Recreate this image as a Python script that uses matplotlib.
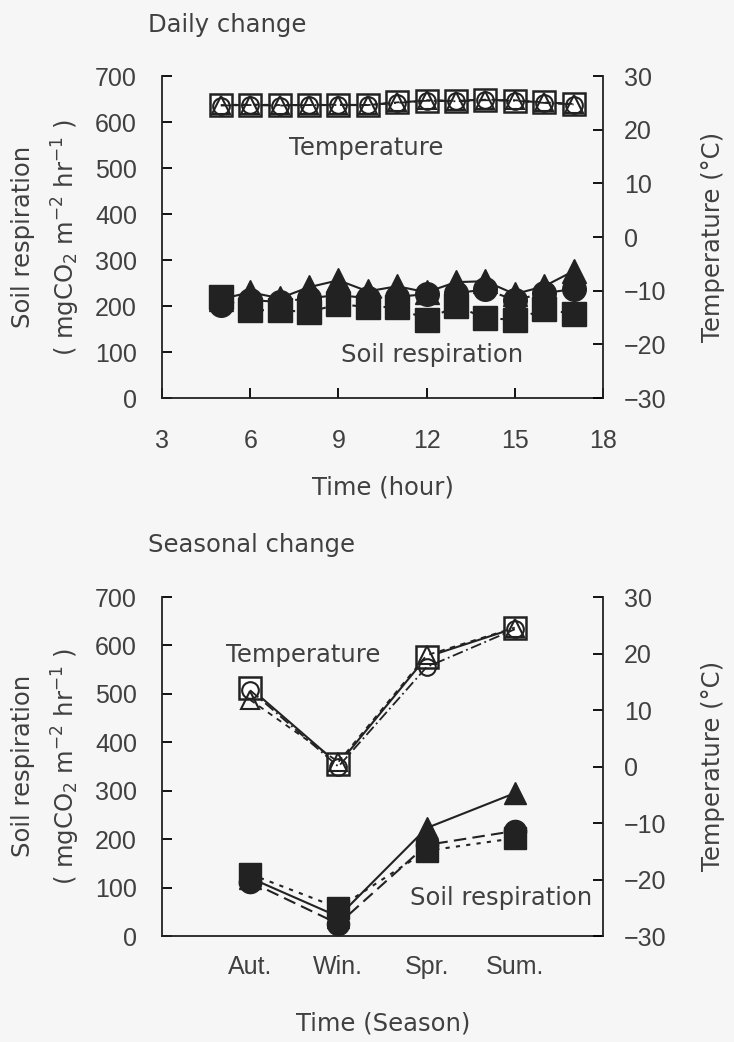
import matplotlib.pyplot as plt
import numpy as np

plt.rcParams['font.family'] = ['DejaVu Sans']
plt.rcParams['mathtext.fontset'] = 'dejavusans'

# daily change data
hours = [5, 6, 7, 8, 9, 10, 11, 12, 13, 14, 15, 16, 17]
temp_sq = [24.6, 24.6, 24.6, 24.6, 24.6, 24.6, 25.1, 25.4, 25.4, 25.6, 25.4, 25.1, 24.8]
temp_ci = [24.5, 24.6, 24.5, 24.6, 24.6, 24.6, 25.0, 25.4, 25.3, 25.5, 25.4, 25.0, 24.7]
temp_tr = [24.6, 24.7, 24.6, 24.6, 24.7, 24.6, 25.1, 25.5, 25.4, 25.6, 25.5, 25.1, 24.8]
resp_tr = [215, 230, 217, 241, 256, 232, 243, 230, 252, 254, 226, 243, 276]
resp_ci = [202, 213, 209, 217, 224, 217, 220, 226, 228, 236, 213, 228, 237]
resp_sq = [219, 191, 191, 187, 204, 198, 198, 170, 200, 174, 170, 193, 183]

# seasonal change data
seasons = ['Aut.', 'Win.', 'Spr.', 'Sum.']
s_temp_sq = [13.9, 0.4, 19.4, 24.5]
s_temp_ci = [13.5, 0.0, 17.6, 24.3]
s_temp_tr = [11.8, 0.8, 19.7, 24.6]
s_resp_tr = [120, 40, 223, 295]
s_resp_ci = [112, 25, 188, 217]
s_resp_sq = [128, 58, 176, 202]

txt = '#404040'
bg = '#f7f6f6'
fs = 17.5
tfs = 18
tick_font = 'Liberation Sans'

fig = plt.figure(figsize=(7.34, 10.42), dpi=100, facecolor=bg)

def style(ax, ax2):
    for a in (ax, ax2):
        a.set_facecolor('none')
        a.spines['top'].set_visible(False)
        for s in a.spines.values():
            s.set_linewidth(1.3)
            s.set_color('#222222')
    ax.spines['right'].set_visible(False)
    ax2.spines['left'].set_visible(False)
    ax2.spines['bottom'].set_visible(False)
    ax.tick_params(axis='y', direction='in', length=7, width=1.3, pad=18,
                   labelsize=tfs, labelcolor=txt)
    ax2.tick_params(axis='y', direction='in', length=7, width=1.3, pad=15,
                    labelsize=tfs, labelcolor=txt)
    ax.set_ylim(0, 700)
    ax.set_yticks(np.arange(0, 701, 100))
    ax2.set_ylim(-30, 30)
    ax2.set_yticks(np.arange(-30, 31, 10))
    for lab in ax.get_yticklabels() + ax2.get_yticklabels() + ax.get_xticklabels():
        lab.set_family(tick_font)

def open_marks(ax, x, sq, ci, tr, ms):
    ax.plot(x, sq, color='#222222', lw=1.5, marker='s', ms=ms, mfc='white', mec='#222222', mew=1.8)
    ax.plot(x, ci, color='#222222', lw=1.3, ls=(0, (6, 2, 1, 2)), marker='o', ms=ms * 0.75,
            mfc='none', mec='#222222', mew=1.5)
    ax.plot(x, tr, color='#222222', lw=1.3, ls=(0, (3, 3)), marker='^', ms=ms * 0.8,
            mfc='none', mec='#222222', mew=1.5)

def filled_marks(ax, x, tr, ci, sq, ms):
    ax.plot(x, sq, color='#222222', lw=1.5, ls=(0, (2, 3)), marker='s', ms=ms, mfc='#222222', mec='#222222')
    ax.plot(x, ci, color='#222222', lw=1.5, ls=(0, (6, 3)), marker='o', ms=ms, mfc='#222222', mec='#222222')
    ax.plot(x, tr, color='#222222', lw=1.5, marker='^', ms=ms, mfc='#222222', mec='#222222')

# ---- daily change ----
ax1 = fig.add_axes([0.2207, 0.618, 0.6008, 0.309])
ax1r = ax1.twinx()
ax1.set_xlim(3, 18)
ax1.set_xticks([3, 6, 9, 12, 15, 18])
ax1.tick_params(axis='x', direction='in', length=7, width=1.3, pad=22,
                labelsize=tfs, labelcolor=txt)
style(ax1, ax1r)
filled_marks(ax1, hours, resp_tr, resp_ci, resp_sq, 17)
open_marks(ax1r, hours, temp_sq, temp_ci, temp_tr, 16)
ax1.text(9.94, 543, 'Temperature', fontsize=fs, color=txt, ha='center', va='center')
ax1.text(12.2, 93, 'Soil respiration', fontsize=fs, color=txt, ha='center', va='center')
fig.text(148 / 734, 1 - 25 / 1042, 'Daily change', fontsize=fs, color=txt, ha='left', va='center')
fig.text(383 / 734, 1 - 487 / 1042, 'Time (hour)', fontsize=fs, color=txt, ha='center', va='center')

# ---- seasonal change ----
ax2 = fig.add_axes([0.2207, 0.1017, 0.6008, 0.3253])
ax2r = ax2.twinx()
ax2.set_xlim(0, 5)
ax2.set_xticks([1, 2, 3, 4])
ax2.set_xticklabels(seasons)
ax2.tick_params(axis='x', direction='in', length=0, pad=14,
                labelsize=tfs, labelcolor=txt)
style(ax2, ax2r)
xs = np.arange(1, len(seasons) + 1)
filled_marks(ax2, xs, s_resp_tr, s_resp_ci, s_resp_sq, 16)
open_marks(ax2r, xs, s_temp_sq, s_temp_ci, s_temp_tr, 16)
ax2.text(1.6, 580, 'Temperature', fontsize=fs, color=txt, ha='center', va='center')
ax2.text(3.84, 78, 'Soil respiration', fontsize=fs, color=txt, ha='center', va='center')
fig.text(148 / 734, 1 - 545 / 1042, 'Seasonal change', fontsize=fs, color=txt, ha='left', va='center')
fig.text(383 / 734, 1 - 1024 / 1042, 'Time (Season)', fontsize=fs, color=txt, ha='center', va='center')

# axis titles
for yc in (237, 766):
    fig.text(23 / 734, 1 - yc / 1042, 'Soil respiration', fontsize=fs, color=txt,
             rotation=90, ha='center', va='center')
    fig.text(66 / 734, 1 - yc / 1042, '( mgCO$_2$ m$^{-2}$ hr$^{-1}$ )', fontsize=fs, color=txt,
             rotation=90, ha='center', va='center')
    fig.text(713 / 734, 1 - yc / 1042, 'Temperature (\u00b0C)', fontsize=fs, color=txt,
             rotation=90, ha='center', va='center')

fig.savefig('out.png', dpi=100, facecolor=bg)
